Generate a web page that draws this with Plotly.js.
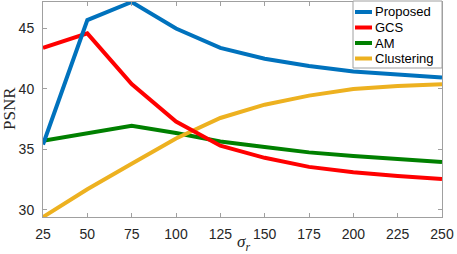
<!DOCTYPE html>
<html>
<head>
<meta charset="utf-8">
<script src="https://cdn.plot.ly/plotly-3.0.1.min.js"></script>
<style>html,body{margin:0;padding:0;background:#fff;}#chart{width:457px;height:254px;}</style>
</head>
<body>
<div id="chart"></div>
<script>
const sigmaR = [25, 50, 75, 100, 125, 150, 175, 200, 225, 250];
const proposed   = [35.4, 45.7, 47.2, 45.0, 43.4, 42.5, 41.9, 41.45, 41.2, 40.95];
const gcs        = [43.4, 44.6, 40.4, 37.3, 35.3, 34.3, 33.55, 33.1, 32.8, 32.55];
const am         = [35.7, 36.35, 36.95, 36.35, 35.65, 35.2, 34.75, 34.45, 34.2, 33.95];
const clustering = [29.4, 31.7, 33.8, 35.9, 37.6, 38.7, 39.45, 40.0, 40.25, 40.4];
const seriesNames = ['Proposed', 'GCS', 'AM', 'Clustering'];
const seriesValues = [proposed, gcs, am, clustering];
const seriesColors = ['#0072BD', '#FF0000', '#008000', '#EDB120'];
const xTicks = [25, 50, 75, 100, 125, 150, 175, 200, 225, 250];
const yTicks = [30, 35, 40, 45];
const xTitle = '<i>σ</i><sub><i>r</i></sub>';
const yTitle = 'PSNR';

const W = 457, H = 254;
const M = {l: 43, r: 15, t: 2, b: 37};
const pw = W - M.l - M.r, ph = H - M.t - M.b;
const px = x => (x - M.l) / pw;
const py = y => (H - M.b - y) / ph;

// draw order: AM, Clustering, GCS, Proposed (Proposed on top)
const order = [2, 3, 1, 0];
const traces = order.map(i => ({
  x: sigmaR, y: seriesValues[i], name: seriesNames[i],
  type: 'scatter', mode: 'lines',
  line: {color: seriesColors[i], width: 4},
  showlegend: false, hoverinfo: 'skip'
}));

const axisGray = '#a0a0a0';
const shapes = [];
const annotations = [];
// legend box
const lgX0 = 353, lgX1 = 442, lgY0 = 1, lgY1 = 68;
shapes.push({type: 'rect', xref: 'paper', yref: 'paper',
  x0: px(lgX0), x1: px(lgX1), y0: py(lgY1), y1: py(lgY0),
  line: {color: axisGray, width: 1}, fillcolor: '#ffffff', layer: 'above'});
const rowY = [12, 27.5, 43, 58.5];
seriesNames.forEach((n, i) => {
  shapes.push({type: 'line', xref: 'paper', yref: 'paper',
    x0: px(355), x1: px(372), y0: py(rowY[i]), y1: py(rowY[i]),
    line: {color: seriesColors[i], width: 4}, layer: 'above'});
  annotations.push({xref: 'paper', yref: 'paper', x: px(372.5), y: py(rowY[i]),
    xanchor: 'left', yanchor: 'middle', showarrow: false, text: n,
    font: {family: 'Liberation Sans, Arial, sans-serif', size: 13, color: '#000'}});
});
const titleFont = {family: 'Liberation Serif, Times New Roman, serif', size: 17, color: '#262626'};
// axis titles
annotations.push({xref: 'paper', yref: 'paper', x: px(243), y: py(243.5), borderpad: 0,
  xanchor: 'center', yanchor: 'middle', showarrow: false, text: xTitle, font: titleFont});
annotations.push({xref: 'paper', yref: 'paper', x: px(10), y: py(109), borderpad: 0,
  xanchor: 'center', yanchor: 'middle', showarrow: false, text: yTitle, textangle: -90, font: titleFont});

const tickFont = {family: 'Liberation Sans, Arial, Helvetica, sans-serif', size: 14, color: '#262626'};
const layout = {
  width: W, height: H,
  margin: M,
  paper_bgcolor: '#fff', plot_bgcolor: '#fff',
  showlegend: false,
  xaxis: {
    range: [25, 250], tickvals: xTicks, ticktext: xTicks.map(String),
    ticks: 'inside', ticklen: 4, tickcolor: axisGray, tickwidth: 1,
    showline: true, linecolor: axisGray, linewidth: 1, mirror: 'ticks',
    showgrid: false, zeroline: false, tickfont: tickFont, ticklabelstandoff: 4
  },
  yaxis: {
    range: [29.4, 47.2], tickvals: yTicks, ticktext: yTicks.map(String),
    ticks: 'inside', ticklen: 4, tickcolor: axisGray, tickwidth: 1,
    showline: true, linecolor: axisGray, linewidth: 1, mirror: 'ticks',
    showgrid: false, zeroline: false, tickfont: tickFont, ticklabelstandoff: 5
  },
  shapes: shapes,
  annotations: annotations
};
Plotly.newPlot('chart', traces, layout, {staticPlot: true, displayModeBar: false});
</script>
</body>
</html>
